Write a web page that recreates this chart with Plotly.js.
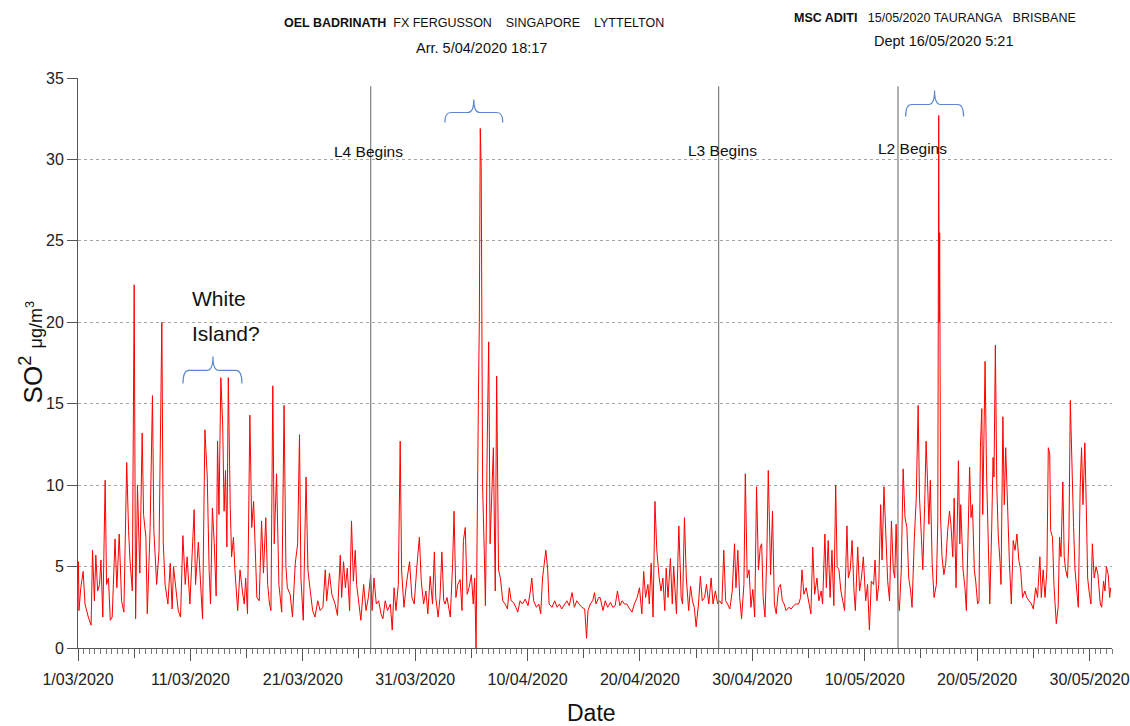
<!DOCTYPE html>
<html>
<head>
<meta charset="utf-8">
<script src="https://cdn.plot.ly/plotly-3.0.1.min.js"></script>
<style>html,body{margin:0;padding:0;background:#fff;}#chart{width:1130px;height:726px;}</style>
</head>
<body>
<div id="chart"></div>
<script>
// Hours since 1/03/2020 00:00 and SO2 values (µg/m3)
const hoursSinceStart = [
0,1,2,6,11,15,22,28,31,35,38,42,46,49,53,58,61,65,69,73,79,83,88,93,98,104,108,111,116,120,123,127,132,137,140,145,148,154,159,162,168,173,179,182,186,192,197,201,204,209,214,219,224,229,233,239,244,248,251,257,263,266,271,276,280,283,287,291,295,298,301,305,307,309,312,315,318,321,325,328,332,335,341,346,351,355,358,362,367,
371,375,378,382,387,392,396,401,405,409,412,416,419,424,429,435,440,444,447,453,458,464,469,473,476,481,487,491,496,501,506,512,517,523,528,531,537,542,549,554,560,563,567,571,575,580,584,588,592,595,600,604,610,615,620,625,628,632,637,642,647,651,656,661,667,671,675,679,684,688,691,696,702,708,713,718,723,729,733,738,743,747,
752,757,761,764,769,773,777,781,784,788,795,800,803,807,811,816,820,823,827,831,835,840,844,847,850,853,855,857,859,861,864,868,870,874,877,880,884,887,891,894,898,902,907,912,917,921,925,930,935,939,944,949,955,961,966,969,973,979,984,988,992,996,999,1003,1006,1012,1018,1023,1028,1033,1039,1044,1049,1055,1060,1065,1070,1076,1082,1086,1089,1094,1099,1103,1106,1112,
1115,1121,1126,1131,1137,1142,1147,1152,1157,1162,1167,1172,1178,1183,1188,1194,1199,1204,1208,1212,1217,1220,1224,1228,1232,1236,1241,1245,1249,1253,1256,1260,1265,1269,1272,1278,1283,1288,1291,1295,1299,1304,1308,1312,1316,1320,1325,1329,1333,1338,1342,1347,1352,1356,1361,1366,1370,1375,1379,1383,1387,1392,1397,1402,1405,1409,1413,1417,1422,1425,1429,1433,1437,1441,1445,1449,1453,1457,1460,1463,1467,1471,1474,1479,1483,1487,1491,1496,1500,
1504,1508,1512,1518,1523,1528,1533,1539,1543,1546,1550,1555,1559,1565,1569,1573,1578,1582,1587,1590,1595,1598,1602,1606,1610,1614,1618,1621,1625,1629,1633,1637,1642,1645,1649,1653,1657,1660,1665,1669,1673,1677,1682,1686,1690,1694,1699,1702,1706,1710,1714,1717,1721,1726,1729,1733,1737,1741,1744,1747,1751,1754,1758,1762,1766,1770,1774,1778,1781,1786,1790,1794,1797,1801,1804,1808,1811,1814,1817,1820,1824,1828,1833,1836,1838,1839,1840,1842,1845,1849,
1853,1857,1861,1864,1868,1871,1875,1877,1880,1883,1885,1890,1894,1897,1901,1904,1907,1910,1914,1917,1921,1924,1927,1930,1932,1935,1937,1940,1944,1947,1951,1954,1956,1959,1962,1965,1969,1971,1975,1978,1981,1985,1989,1993,1997,2001,2005,2009,2013,2017,2022,2026,2031,2036,2040,2045,2049,2054,2057,2061,2065,2069,2072,2075,2077,2081,2084,2089,2093,2096,2099,2103,2106,2109,2113,2116,2119,2122,2126,2129,2133,2136,2140,2143,2146,2150,2153,2156,2159,2163,2166,2170,2174,2178,2183,2186,2190,2193,2196,2200,2203,2205
];
const so2Values = [
4.0,5.3,2.3,3.7,4.7,2.7,1.9,1.4,6.0,2.9,5.7,3.5,3.9,5.4,1.9,10.3,3.9,4.3,1.7,1.9,6.7,3.7,7.0,2.9,2.2,11.4,7.2,5.4,3.5,22.3,1.8,10.0,4.6,13.2,8.2,6.8,2.1,7.4,15.5,7.2,3.9,6.0,20.0,6.5,3.9,2.7,5.2,2.4,5.0,3.5,2.3,1.9,6.9,3.9,5.6,2.7,5.8,8.5,3.9,6.5,3.3,1.8,13.4,10.5,4.8,2.7,8.6,6.4,3.2,12.7,8.2,16.6,15.1,13.7,8.4,10.9,6.2,16.6,8.8,5.6,6.8,4.8,2.3,4.8,3.5,2.7,4.3,2.1,14.3,
7.4,9.0,6.8,3.1,2.9,7.8,4.6,8.0,3.9,2.7,2.3,16.1,6.4,10.7,3.9,2.2,14.9,5.0,3.7,3.3,1.9,5.2,6.4,13.1,4.3,1.7,10.5,4.8,3.5,2.3,1.9,2.9,2.3,2.5,4.8,2.9,4.6,3.3,2.7,2.0,5.7,3.1,5.3,3.7,4.9,2.3,7.8,4.1,6.0,3.9,2.7,1.7,3.9,2.3,3.1,4.5,2.3,4.3,2.7,2.9,2.1,1.8,2.9,2.3,2.7,1.1,3.7,2.3,3.9,12.7,4.8,2.5,4.1,5.3,3.1,2.7,4.8,6.8,4.1,2.7,3.5,2.1,
4.4,2.7,5.9,3.1,1.9,3.1,5.9,2.9,2.7,3.1,1.9,5.2,8.4,3.1,3.9,4.2,2.3,6.6,7.4,3.3,3.7,4.5,2.7,4.3,0.0,12.1,15.2,20.0,31.9,29.5,9.9,5.4,2.6,12.9,18.8,6.4,9.2,12.3,3.5,16.7,4.8,4.3,2.9,2.7,2.4,3.7,2.9,2.8,2.5,2.2,2.9,2.7,3.0,2.6,3.5,4.3,2.9,2.5,2.7,2.1,4.3,5.2,6.0,4.8,2.7,2.5,2.9,2.5,2.7,2.4,2.7,2.9,2.6,3.4,2.5,2.9,2.7,2.5,2.4,0.6,2.3,2.7,2.9,3.4,2.7,3.1,
3.1,2.3,2.9,2.5,2.8,2.5,2.6,3.5,2.6,2.9,2.7,2.7,2.4,2.2,2.7,3.1,3.7,2.1,4.7,3.1,3.9,2.7,5.2,1.9,9.0,6.0,4.3,3.5,4.3,2.3,4.9,3.1,5.5,2.7,5.0,2.1,7.5,3.1,2.7,8.0,4.3,2.3,3.8,2.9,2.5,1.3,2.7,4.4,2.9,3.1,3.9,2.7,4.3,2.7,3.5,2.7,2.9,2.7,6.0,2.9,2.7,2.4,3.5,6.4,3.7,6.0,3.1,1.8,3.9,10.7,4.3,4.8,2.5,3.6,1.9,9.9,4.8,6.2,6.4,3.1,1.9,5.8,10.9,4.5,8.4,2.7,2.1,3.7,3.9,
2.9,2.7,2.3,2.5,2.4,2.6,2.7,2.7,3.1,4.8,3.3,3.7,3.1,2.1,6.2,3.3,4.3,2.9,3.5,2.7,7.0,3.7,6.6,3.1,6.0,2.6,10.0,5.0,4.8,3.5,2.9,2.3,7.5,4.3,4.8,6.6,3.5,2.3,6.2,3.5,4.3,5.6,2.9,3.9,1.1,4.1,3.9,5.4,2.9,3.9,8.8,5.4,9.9,5.6,4.1,2.9,7.8,4.8,4.3,7.6,3.1,2.3,4.8,11.0,8.0,7.4,4.3,3.5,2.5,6.8,9.2,14.9,9.2,6.8,4.8,8.8,12.7,10.3,7.6,10.3,5.2,3.1,3.9,7.8,32.7,20.0,25.5,8.0,5.6,4.5,
5.2,7.2,8.4,7.6,5.6,9.2,3.7,6.6,11.5,6.4,8.8,4.8,3.7,2.3,7.4,11.1,8.0,8.8,4.8,4.1,2.7,2.9,12.3,14.7,8.2,12.5,17.6,10.9,6.0,2.7,7.2,11.7,10.5,18.6,9.9,7.0,5.2,3.9,14.2,8.8,12.3,8.6,5.2,2.7,6.6,6.0,7.0,5.4,4.8,3.1,3.5,3.1,2.9,2.7,2.4,3.7,3.1,5.6,3.1,4.8,3.1,4.8,12.3,11.9,7.2,6.8,3.9,1.5,2.5,6.8,5.6,10.2,5.6,4.8,4.3,6.8,15.2,10.9,7.4,4.8,3.1,2.5,9.9,12.3,8.8,12.6,8.8,4.3,3.5,2.7,6.4,4.3,5.0,4.5,2.7,2.5,4.1,3.5,5.0,4.5,3.1,3.7
];
// Alert level change dates and labels
const levelDates = ['2020-03-27 01:00', '2020-04-27 00:00', '2020-05-12 23:00'];
const levelLabels = ['L4 Begins', 'L3 Begins', 'L2 Begins'];
const yTickValues = [0, 5, 10, 15, 20, 25, 30, 35];

function pad(n){return (n<10?'0':'')+n;}
const start = Date.UTC(2020, 2, 1, 0, 0, 0);
const xDates = hoursSinceStart.map(h => {
  const d = new Date(start + h * 3600000);
  return d.getUTCFullYear() + '-' + pad(d.getUTCMonth()+1) + '-' + pad(d.getUTCDate()) + ' ' + pad(d.getUTCHours()) + ':00';
});

// plot-area geometry (pixels) for placing decorative annotations
const L = 78, R = 1112.5, T = 77.5, B = 647.7;
const px = x => (x - L) / (R - L);
const py = y => (B - y) / (B - T);

const arial = 'Liberation Sans, Arial, sans-serif';
const sp = n => '\u00a0'.repeat(n);

function brace(x1, x2, xc, yb, yh, yt) {
  const r = 6;
  return 'M' + px(x1) + ',' + py(yb) +
    ' Q' + px(x1) + ',' + py(yh) + ' ' + px(x1 + r) + ',' + py(yh) +
    ' L' + px(xc - r) + ',' + py(yh) +
    ' Q' + px(xc) + ',' + py(yh) + ' ' + px(xc) + ',' + py(yt) +
    ' Q' + px(xc) + ',' + py(yh) + ' ' + px(xc + r) + ',' + py(yh) +
    ' L' + px(x2 - r) + ',' + py(yh) +
    ' Q' + px(x2) + ',' + py(yh) + ' ' + px(x2) + ',' + py(yb);
}

const shapes = levelDates.map(d => ({
  type: 'line', xref: 'x', yref: 'y', x0: d, x1: d, y0: 0, y1: 34.5,
  line: {color: '#7f7f7f', width: 1.2}
}));
const braceColor = '#5b87cf';
shapes.push({type: 'path', xref: 'paper', yref: 'paper', path: brace(183, 242, 213, 383, 370, 356), line: {color: braceColor, width: 1.2}});
shapes.push({type: 'path', xref: 'paper', yref: 'paper', path: brace(445, 503, 474, 122, 112, 99), line: {color: braceColor, width: 1.2}});
shapes.push({type: 'path', xref: 'paper', yref: 'paper', path: brace(906, 964, 935, 116, 104, 90), line: {color: braceColor, width: 1.2}});

function txt(text, x, y, size, anchor, angle) {
  const a = {text: text, xref: 'paper', yref: 'paper', x: px(x), y: py(y), xanchor: anchor || 'left', yanchor: 'middle',
    showarrow: false, font: {family: arial, size: size || 12, color: '#111'}};
  if (angle !== undefined) a.textangle = angle;
  return a;
}
const annotations = [
  txt('<b>OEL BADRINATH</b>' + sp(2) + 'FX FERGUSSON' + sp(4) + 'SINGAPORE' + sp(4) + 'LYTTELTON', 474, 22, 12.5, 'center'),
  txt('Arr. 5/04/2020 18:17', 482, 47, 14.5, 'center'),
  txt('<b>MSC ADITI</b>' + sp(3) + '15/05/2020 TAURANGA' + sp(3) + 'BRISBANE', 935, 17, 12.5, 'center'),
  txt('Dept 16/05/2020 5:21', 944, 40, 14.5, 'center'),
  txt('White', 190, 298, 21),
  txt('Island?', 190, 333, 21),
  txt('Date', 592, 713, 23, 'center'),
  txt('SO<sup>2</sup> <span style="font-size:18px">\u03bcg/m<sup>3</sup></span>', 31, 352, 26, 'center', -90)
];
const labelX = [332, 686, 876];
const labelY = [151, 150, 148];
levelLabels.forEach((t, i) => annotations.push(txt(t, labelX[i], labelY[i], 15.5)));

const trace = {
  x: xDates, y: so2Values, type: 'scatter', mode: 'lines',
  line: {color: '#ff0000', width: 1}, hoverinfo: 'x+y'
};
// invisible helper trace on the overlay axis that carries the 5-day ticks
const tickTrace = {x: [xDates[0]], y: [0], xaxis: 'x2', type: 'scatter', mode: 'markers', marker: {opacity: 0}, hoverinfo: 'skip'};

const layout = {
  width: 1130, height: 726,
  margin: {l: L, r: 1130 - R, t: T, b: 726 - B, pad: 0},
  paper_bgcolor: '#fff', plot_bgcolor: '#fff',
  showlegend: false,
  xaxis: {
    type: 'date', range: ['2020-03-01', '2020-06-01'],
    tick0: '2020-03-01', dtick: 864000000, tickformat: '%-d/%m/%Y',
    ticks: 'outside', ticklen: 12, tickcolor: '#555', tickwidth: 1,
    ticklabelstandoff: 5,
    showline: true, linecolor: '#555', linewidth: 1,
    showgrid: false, zeroline: false,
    tickfont: {family: arial, size: 16, color: '#222'},
    minor: {dtick: 43200000, ticks: 'outside', ticklen: 5, tickcolor: '#777', showgrid: false}
  },
  xaxis2: {
    type: 'date', overlaying: 'x', matches: 'x', anchor: 'y', side: 'bottom',
    range: ['2020-03-01', '2020-06-01'], tick0: '2020-03-06', dtick: 864000000,
    ticks: 'outside', ticklen: 9, tickcolor: '#555', showticklabels: false,
    showline: false, showgrid: false, zeroline: false
  },
  yaxis: {
    range: [0, 35], tickvals: yTickValues,
    ticks: 'outside', ticklen: 10, tickcolor: '#555',
    showline: true, linecolor: '#555', linewidth: 1,
    showgrid: true, gridcolor: '#a6a6a6', griddash: 'dot', gridwidth: 1,
    zeroline: false,
    tickfont: {family: arial, size: 16, color: '#222'}
  },
  shapes: shapes,
  annotations: annotations
};

Plotly.newPlot('chart', [trace, tickTrace], layout, {displayModeBar: false, staticPlot: true});
</script>
</body>
</html>
